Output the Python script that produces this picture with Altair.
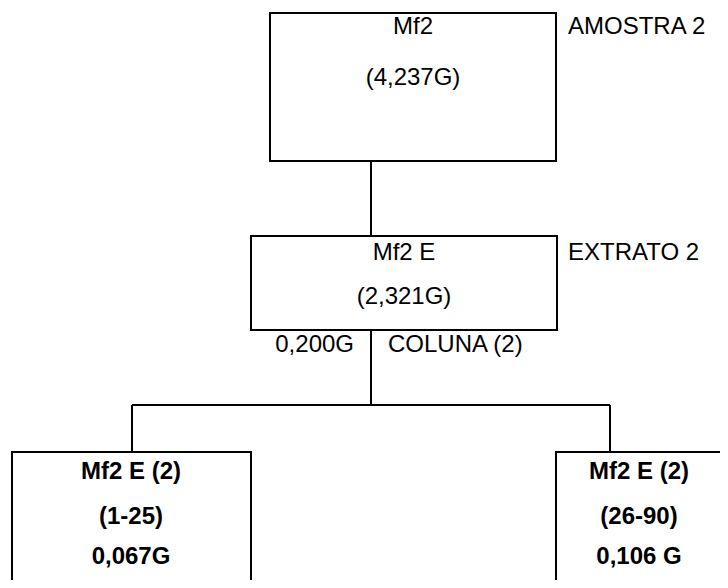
import altair as alt
import pandas as pd

# ---- diagram content (coordinates in reference-image units) ----
box_names = ["amostra", "extrato", "frac_1_25", "frac_26_90"]
box_x0 = [270, 251, 12, 556]
box_x1 = [556, 557, 251, 790]
box_y0 = [13, 236, 452, 452]
box_y1 = [161, 330, 640, 640]

conn_x = [371, 371, 132, 132, 610]
conn_x2 = [371, 371, 610, 132, 610]
conn_y = [161, 330, 405, 405, 405]
conn_y2 = [236, 405, 405, 452, 452]

center_labels = ["Mf2", "(4,237G)", "Mf2 E", "(2,321G)"]
center_x = [413, 413, 404, 404]
center_y = [27, 78, 253, 297]

left_labels = ["AMOSTRA 2", "EXTRATO 2", "COLUNA (2)"]
left_x = [568, 568, 388]
left_y = [27, 253, 345]

right_labels = ["0,200G"]
right_x = [354]
right_y = [345]

bold_labels = ["Mf2 E (2)", "(1-25)", "0,067G", "Mf2 E (2)", "(26-90)", "0,106 G"]
bold_x = [131, 131, 131, 639, 639, 639]
bold_y = [472, 517, 557, 472, 517, 557]

FONT = "Liberation Sans"
FS = 24

boxes = pd.DataFrame({"name": box_names, "x0": box_x0, "x1": box_x1, "y0": box_y0, "y1": box_y1})
conns = pd.DataFrame({"x": conn_x, "x2": conn_x2, "y": conn_y, "y2": conn_y2})
ctext = pd.DataFrame({"t": center_labels, "x": center_x, "y": center_y})
ltext = pd.DataFrame({"t": left_labels, "x": left_x, "y": left_y})
rtext = pd.DataFrame({"t": right_labels, "x": right_x, "y": right_y})
btext = pd.DataFrame({"t": bold_labels, "x": bold_x, "y": bold_y})

xs = alt.Scale(domain=[8, 720], nice=False, zero=False)
ys = alt.Scale(domain=[8, 580], nice=False, zero=False, reverse=True)

def X(f="x"):
    return alt.X(f"{f}:Q", scale=xs, axis=None)

def Y(f="y"):
    return alt.Y(f"{f}:Q", scale=ys, axis=None)

rects = alt.Chart(boxes).mark_rect(
    fill="white", fillOpacity=0, stroke="black", strokeWidth=2, clip=True
).encode(x=X("x0"), x2="x1:Q", y=Y("y0"), y2="y1:Q")

rules = alt.Chart(conns).mark_rule(color="black", strokeWidth=2, clip=True).encode(
    x=X("x"), x2="x2:Q", y=Y("y"), y2="y2:Q"
)

ct = alt.Chart(ctext).mark_text(
    font=FONT, fontSize=FS, align="center", baseline="middle", color="black"
).encode(x=X(), y=Y(), text="t:N")

lt = alt.Chart(ltext).mark_text(
    font=FONT, fontSize=FS, align="left", baseline="middle", color="black"
).encode(x=X(), y=Y(), text="t:N")

rt = alt.Chart(rtext).mark_text(
    font=FONT, fontSize=FS, align="right", baseline="middle", color="black"
).encode(x=X(), y=Y(), text="t:N")

bt = alt.Chart(btext).mark_text(
    font=FONT, fontSize=FS, fontWeight="bold", align="center", baseline="middle", color="black"
).encode(x=X(), y=Y(), text="t:N")

chart = alt.layer(rects, rules, ct, lt, rt, bt).properties(
    width=712, height=572, padding=0, autosize=alt.AutoSizeParams(type="none"),
    background="white"
).configure_view(stroke=None)

chart.save("out.html", embed_options={"renderer": "svg", "actions": False})
